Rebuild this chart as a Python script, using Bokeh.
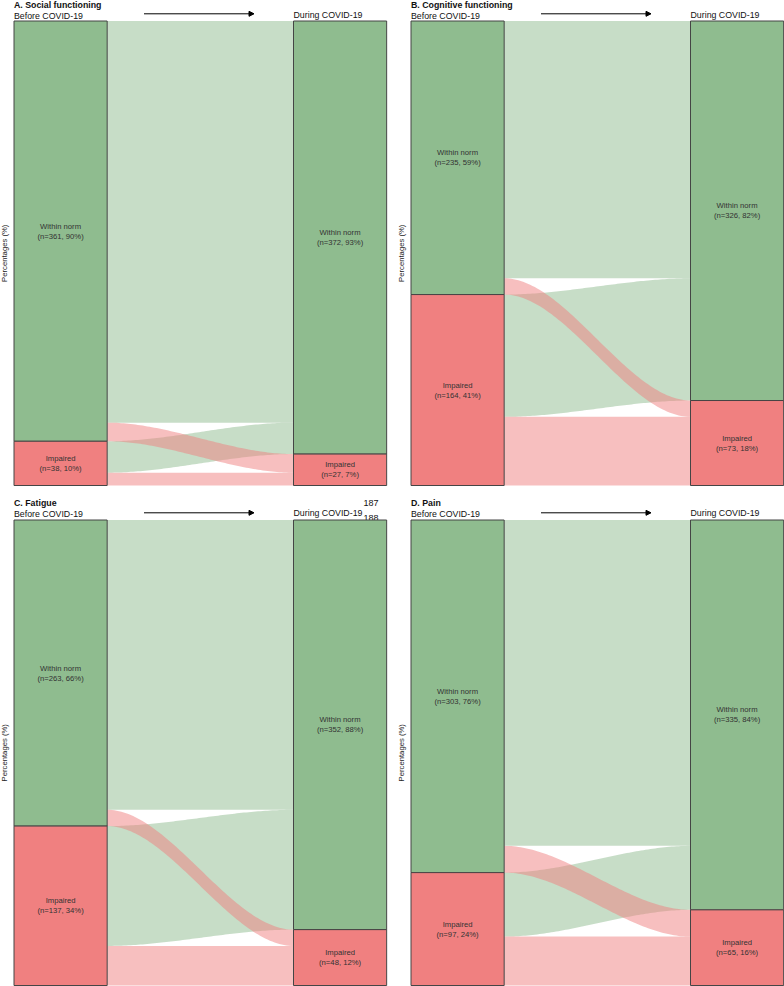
import numpy as np
from bokeh.plotting import figure
from bokeh.layouts import gridplot
from bokeh.models import Range1d, Arrow, NormalHead
from bokeh.core.properties import value
from bokeh.embed import file_html
from bokeh.resources import INLINE

# ---------------- data ----------------
panel_titles = ["A. Social functioning", "B. Cognitive functioning", "C. Fatigue", "D. Pain"]
state_names = ["Within norm", "Impaired"]
time_labels = ["Before COVID-19", "During COVID-19"]
y_title = "Percentages (%)"
# transitions Before -> During (counts of patients)
within_to_within = [345, 221, 249, 280]
within_to_impaired = [16, 14, 14, 23]
impaired_to_within = [27, 105, 103, 55]
impaired_to_impaired = [11, 59, 34, 42]
margin_notes = ["187", "188"]

# ---------------- style ----------------
GREEN = "#8FBC8F"
PINK = "#F08080"
BORDER = "#454545"
FONT = "Liberation Sans"
PW, PH = 392, 493            # panel size on the page
REF_W, REF_H = 392.0, 493.0  # panel size in layout units
UNIT = 279.5                 # layout units per axis unit (x)
AX = [1.0, 2.0]
BW = 1.0 / 3.0
bar_left_ref = [13.5, 18.5]   # per column
bar_top_ref = [20.5, 26.5]    # per row
bar_bot_ref = [485.0, 492.0]  # per row
head_y = [  # title, before-label, arrow, during-label
    [4.8, 15.3, 13.3, 14.3],
    [9.6, 20.7, 19.3, 19.6],
]


def pct(a, n):
    return int(a * 100.0 / n + 0.5)


def make_panel(i):
    col, row = i % 2, i // 2
    ww, wi, iw, ii = (within_to_within[i], within_to_impaired[i],
                      impaired_to_within[i], impaired_to_impaired[i])
    n = ww + wi + iw + ii
    before_w, before_i = ww + wi, iw + ii
    during_w, during_i = ww + iw, wi + ii

    ppu = (bar_bot_ref[row] - bar_top_ref[row]) / n
    ys = -(REF_H - bar_bot_ref[row]) / ppu
    ye = n + bar_top_ref[row] / ppu
    xs = (AX[0] - BW / 2) - bar_left_ref[col] / UNIT
    xe = xs + REF_W / UNIT

    def fx(px):
        return xs + px / UNIT

    def fy(py):
        return ye - py / ppu

    p = figure(width=PW, height=PH, x_range=Range1d(xs, xe), y_range=Range1d(ys, ye),
               output_backend="svg", toolbar_location=None, min_border=0,
               x_axis_location=None, y_axis_location=None, title=None)
    p.grid.visible = False
    p.outline_line_color = None
    p.background_fill_color = "white"
    p.border_fill_color = "white"

    # margin notes (behind the bars) in panel C
    if i == 2:
        p.text(x=[fx(363)] * 2, y=[fy(9.3), fy(24.6)], text=margin_notes,
               text_font=value(FONT), text_font_size="9px",
               text_color="#111111", text_align="left", text_baseline="middle")

    # flows
    x0, x1 = AX[0] + BW / 2, AX[1] - BW / 2
    t = np.linspace(0, 1, 80)
    s = 3 * t ** 2 - 2 * t ** 3
    xcurve = x0 + (x1 - x0) * t
    # (left bottom, left top, right bottom, right top, colour) -- green first, pink on top
    flows = [
        (before_i + wi, n, during_i + iw, n, GREEN),          # within -> within
        (ii, before_i, during_i, during_i + iw, GREEN),       # impaired -> within
        (before_i, before_i + wi, ii, during_i, PINK),        # within -> impaired
        (0, ii, 0, ii, PINK),                                 # impaired -> impaired
    ]
    for lb, lt, rb, rt, c in flows:
        top = lt + (rt - lt) * s
        bot = lb + (rb - lb) * s
        p.patch(np.concatenate([xcurve, xcurve[::-1]]), np.concatenate([top, bot[::-1]]),
                fill_color=c, fill_alpha=0.5, line_color=None)

    # strata
    lefts = [AX[0] - BW / 2, AX[0] - BW / 2, AX[1] - BW / 2, AX[1] - BW / 2]
    rights = [v + BW for v in lefts]
    bottoms = [before_i, 0, during_i, 0]
    tops = [n, before_i, n, during_i]
    colors = [GREEN, PINK, GREEN, PINK]
    p.quad(left=lefts, right=rights, bottom=bottoms, top=tops, fill_color=colors,
           line_color=BORDER, line_width=1)

    # stratum labels
    counts = [before_w, before_i, during_w, during_i]
    names = [state_names[0], state_names[1], state_names[0], state_names[1]]
    cx = [AX[0], AX[0], AX[1], AX[1]]
    cy = [(b + tp) / 2 for b, tp in zip(bottoms, tops)]
    half = 5.0 / ppu
    p.text(x=cx, y=[v + half for v in cy], text=names, text_font=value(FONT),
           text_font_size="7.7px", text_color="#333333", text_align="center",
           text_baseline="middle")
    p.text(x=cx, y=[v - half for v in cy],
           text=[f"(n={c}, {pct(c, n)}%)" for c in counts], text_font=value(FONT),
           text_font_size="7.7px", text_color="#333333", text_align="center",
           text_baseline="middle")

    # y title
    p.text(x=[fx(bar_left_ref[col] - 9.5)], y=[n / 2], text=[y_title], angle=np.pi / 2,
           text_font=value(FONT), text_font_size="7.7px", text_color="#222222",
           text_align="center", text_baseline="middle")

    # header: panel title, time labels, arrow
    hy = head_y[row]
    p.text(x=[AX[0] - BW / 2], y=[fy(hy[0])], text=[panel_titles[i]], text_font=value(FONT),
           text_font_size="8.8px", text_font_style="bold", text_color="#111111",
           text_align="left", text_baseline="middle")
    p.text(x=[AX[0] - BW / 2], y=[fy(hy[1])], text=[time_labels[0]], text_font=value(FONT),
           text_font_size="8.8px", text_color="#111111", text_align="left",
           text_baseline="middle")
    p.text(x=[AX[1] - BW / 2], y=[fy(hy[3])], text=[time_labels[1]], text_font=value(FONT),
           text_font_size="8.8px", text_color="#111111", text_align="left",
           text_baseline="middle")
    lb = bar_left_ref[col]
    p.add_layout(Arrow(x_start=fx(lb + 130), x_end=fx(lb + 240), y_start=fy(hy[2]),
                       y_end=fy(hy[2]), line_color="black", line_width=1,
                       end=NormalHead(size=5, fill_color="black", line_color="black")))
    return p


panels = [make_panel(i) for i in range(4)]
grid = gridplot([[panels[0], panels[1]], [panels[2], panels[3]]], toolbar_location=None)

open("out.html", "w").write(file_html(grid, INLINE))
